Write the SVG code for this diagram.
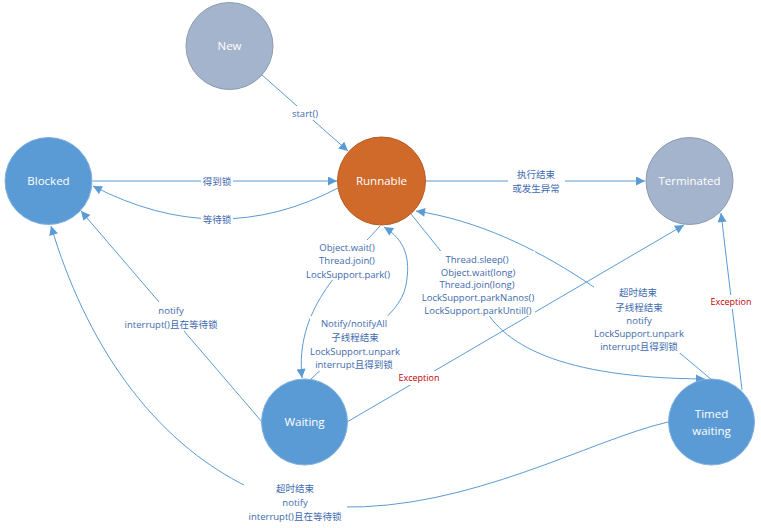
<svg xmlns="http://www.w3.org/2000/svg" width="761" height="528" viewBox="0 0 761 528">
<style>
.edge{fill:none;stroke:#5B9BD5;stroke-width:1}
.arr{marker-end:url(#ah)}
.lbl{font-family:"Open Sans","Noto Sans CJK SC",sans-serif;font-size:9.5px;fill:#3E6AAE;text-anchor:middle}
.ex{fill:#C00000;font-size:9px}
.bg{fill:#fff}
.nt{font-family:"Open Sans","Noto Sans CJK SC",sans-serif;font-size:11.5px;fill:#fff;text-anchor:middle}
.grey{fill:#A4B4CC;stroke:#8C9AB0;stroke-width:1}
.blue{fill:#5B9BD5;stroke:#7FB0DE;stroke-width:1}
.orange{fill:#D06A2A;stroke:#B65A22;stroke-width:1}
</style>
<defs>
<marker id="ah" viewBox="0 0 10 10" refX="10" refY="5" markerWidth="10" markerHeight="9" markerUnits="userSpaceOnUse" orient="auto">
<path d="M0,0 L10,5 L0,10 z" fill="#5B9BD5"/>
</marker>
</defs>
<rect width="761" height="528" fill="#fff"/>
<g id="connectors">
<path class="edge arr" d="M262,75 L348,151"/>
<path class="edge arr" d="M93,181 L337,181"/>
<path class="edge arr" d="M338,188 Q218,251 93,186"/>
<path class="edge arr" d="M426,181 L645,181"/>
<path class="edge arr" d="M380,226 C340,270 295,310 302,378"/>
<path class="edge arr" d="M310,380 C345,345 400,320 406,285 C411,258 405,240 384,227"/>
<path class="edge arr" d="M411,214 L480,300 C500,345 560,378 705,379"/>
<path class="edge arr" d="M712,380 C640,320 540,230 416,211"/>
<path class="edge arr" d="M262,422 L81,211"/>
<path class="edge arr" d="M668,422 C590,440 470,510 340,507 L250,488 C150,440 85,340 51,226"/>
<path class="edge arr" d="M347,422 L684,225"/>
<path class="edge arr" d="M742,390 L721,213"/>

<rect class="bg" x="292" y="106" width="26" height="14"/>
<text class="lbl" x="305" y="116.5">start()</text>

<rect class="bg" x="201" y="174" width="32" height="15"/>
<text class="lbl" x="217" y="184.5">得到锁</text>

<rect class="bg" x="201" y="212" width="32" height="15"/>
<text class="lbl" x="217" y="222.5">等待锁</text>

<rect class="bg" x="508" y="166" width="57" height="29"/>
<text class="lbl" x="536" y="177.5">执行结束</text>
<text class="lbl" x="536" y="191.5">或发生异常</text>

<rect class="bg" x="304" y="240" width="88" height="40"/>
<text class="lbl" x="347" y="250.5">Object.wait()</text>
<text class="lbl" x="347" y="264">Thread.join()</text>
<text class="lbl" x="348" y="277.5">LockSupport.park()</text>

<rect class="bg" x="310" y="316" width="90" height="55"/>
<text class="lbl" x="354" y="326.5">Notify/notifyAll</text>
<text class="lbl" x="355" y="340.5">子线程结束</text>
<text class="lbl" x="355" y="354.5">LockSupport.unpark</text>
<text class="lbl" x="354" y="367.5">interrupt且得到锁</text>

<rect class="bg" x="421" y="251" width="114" height="65"/>
<text class="lbl" x="477" y="262.5">Thread.sleep()</text>
<text class="lbl" x="478" y="275.5">Object.wait(long)</text>
<text class="lbl" x="477" y="287.5">Thread.join(long)</text>
<text class="lbl" x="478" y="300.5">LockSupport.parkNanos()</text>
<text class="lbl" x="478" y="313.5">LockSupport.parkUntill()</text>

<rect class="bg" x="594" y="283" width="90" height="70"/>
<text class="lbl" x="638" y="295.5">超时结束</text>
<text class="lbl" x="639" y="310.5">子线程结束</text>
<text class="lbl" x="639" y="323.5">notify</text>
<text class="lbl" x="639" y="336.5">LockSupport.unpark</text>
<text class="lbl" x="639" y="349.5">interrupt且得到锁</text>

<rect class="bg" x="120" y="302" width="102" height="29"/>
<text class="lbl" x="171" y="313.5">notify</text>
<text class="lbl" x="171" y="327.5">interrupt()且在等待锁</text>

<rect class="bg" x="244" y="480" width="103" height="43"/>
<text class="lbl" x="295" y="491.5">超时结束</text>
<text class="lbl" x="295" y="506">notify</text>
<text class="lbl" x="295" y="519.5">interrupt()且在等待锁</text>

<rect class="bg" x="398" y="371" width="43" height="14"/>
<text class="lbl ex" x="419" y="381">Exception</text>

<rect class="bg" x="710" y="295" width="42" height="14"/>
<text class="lbl ex" x="731" y="305">Exception</text>
</g>
<g id="node-new">
<circle class="grey" cx="229.5" cy="46" r="43.5"/>
<text class="nt" x="229.5" y="50">New</text>
</g>
<g id="node-blocked">
<circle class="blue" cx="48.5" cy="181" r="43.5"/>
<text class="nt" x="48.5" y="185">Blocked</text>
</g>
<g id="node-runnable">
<circle class="orange" cx="381.5" cy="181" r="44"/>
<text class="nt" x="381.5" y="185">Runnable</text>
</g>
<g id="node-terminated">
<circle class="grey" cx="689.5" cy="181" r="43.5"/>
<text class="nt" x="689.5" y="185">Terminated</text>
</g>
<g id="node-waiting">
<circle class="blue" cx="304.5" cy="422" r="43"/>
<text class="nt" x="304.5" y="426">Waiting</text>
</g>
<g id="node-timed-waiting">
<circle class="blue" cx="711.5" cy="422" r="43"/>
<text class="nt" x="711.5" y="418">Timed</text>
<text class="nt" x="711.5" y="435">waiting</text>
</g>
</svg>
